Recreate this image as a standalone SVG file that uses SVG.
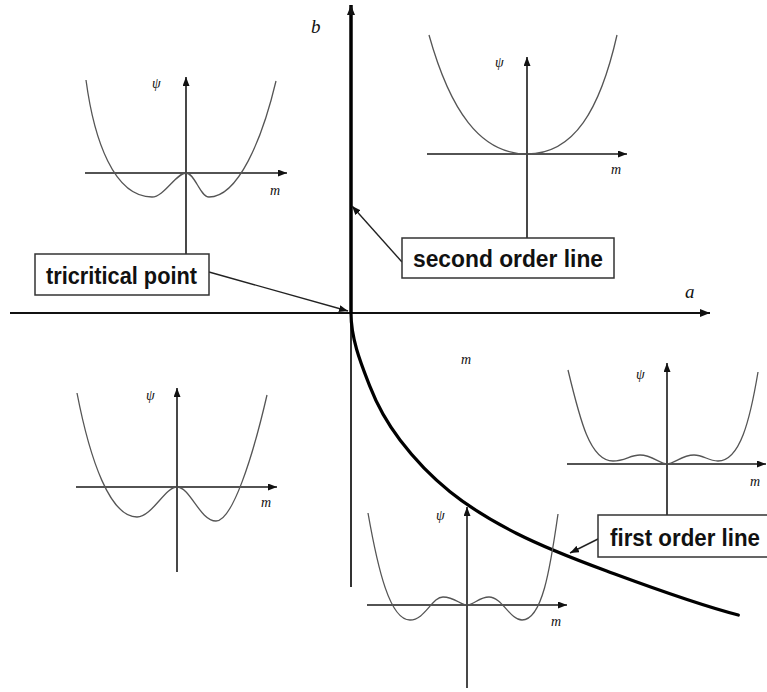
<svg xmlns="http://www.w3.org/2000/svg" width="767" height="692" viewBox="0 0 767 692">
<defs>
<style>
.ax{stroke:#1a1a1a;stroke-width:1.6;fill:none}
.cv{stroke:#555;stroke-width:1.3;fill:none}
.lb{font-family:"Liberation Serif",serif;font-style:italic;fill:#111}
.sm{font-size:14px}
.big{font-size:19px}
.box{fill:#fff;stroke:#333;stroke-width:1.5}
.bt{font-family:"Liberation Sans",Arial,sans-serif;font-weight:bold;font-size:23px;fill:#111}
.ld{stroke:#222;stroke-width:1.4;fill:none}
</style>
<marker id="ah" viewBox="0 0 10 8" refX="10" refY="4" markerWidth="10" markerHeight="8" markerUnits="userSpaceOnUse" orient="auto">
<path d="M0,0 L10,4 L0,8 Z" fill="#111"/>
</marker>
<marker id="ahs" viewBox="0 0 9 7" refX="9" refY="3.5" markerWidth="9" markerHeight="7" markerUnits="userSpaceOnUse" orient="auto">
<path d="M0,0 L9,3.5 L0,7 Z" fill="#111"/>
</marker>
</defs>
<rect width="767" height="692" fill="#fff"/>

<g id="main-axes">
<line x1="10" y1="313" x2="710" y2="313" stroke="#111" stroke-width="2.2" marker-end="url(#ah)"/>
<line x1="351" y1="313" x2="351" y2="587" stroke="#333" stroke-width="2"/>
<line x1="351" y1="313" x2="351" y2="5" stroke="#000" stroke-width="3.5" marker-end="url(#ah)"/>
<text class="lb big" x="311" y="33">b</text>
<text class="lb big" x="685" y="298">a</text>
<text class="lb sm" x="461" y="364">m</text>
</g>

<g id="first-order-line">
<path d="M351,313 C351,340 361.8,365.5 370,386.7 C378.2,407.9 386.7,422.5 400,440 C413.3,457.5 430.55,476.1 450,491.7 C469.45,507.3 490.6,520.3 516.7,533.5 C542.8,546.7 569.8,557.4 606.7,571 C643.6,584.6 694.4,603.7 738.3,615" fill="none" stroke="#000" stroke-width="3.2" stroke-linecap="round"/>
</g>

<g id="inset-top-left">
<line class="ax" x1="85" y1="173" x2="287" y2="173" marker-end="url(#ahs)"/>
<line class="ax" x1="186" y1="254" x2="186" y2="77" marker-end="url(#ahs)"/>
<path class="cv" d="M86,80 C94,140 114,197 152,197 C164,197 176,173 186,173 C195,173 200,197 209,197 C238,197 262,140 276,81"/>
<text class="lb sm" x="152" y="88">ψ</text>
<text class="lb sm" x="270" y="195">m</text>
</g>

<g id="inset-top-right">
<line class="ax" x1="427" y1="154" x2="627" y2="154" marker-end="url(#ahs)"/>
<line class="ax" x1="527" y1="238" x2="527" y2="57" marker-end="url(#ahs)"/>
<path class="cv" d="M429,35 C450,110 480,154 527,154 C574,154 600,110 617,35"/>
<text class="lb sm" x="495" y="67">ψ</text>
<text class="lb sm" x="611" y="174">m</text>
</g>

<g id="inset-bottom-left">
<line class="ax" x1="76" y1="487" x2="277" y2="487" marker-end="url(#ahs)"/>
<line class="ax" x1="177" y1="572" x2="177" y2="388" marker-end="url(#ahs)"/>
<path class="cv" d="M77,393 C90,460 110,517 137,517 C152,517 165,487 177,487 C190,487 200,521 216,521 C232,521 252,460 267,395"/>
<text class="lb sm" x="146" y="400">ψ</text>
<text class="lb sm" x="261" y="507">m</text>
</g>

<g id="inset-bottom">
<line class="ax" x1="367" y1="605" x2="567" y2="605" marker-end="url(#ahs)"/>
<line class="ax" x1="467" y1="688" x2="467" y2="507" marker-end="url(#ahs)"/>
<path class="cv" d="M368,513 C378,570 390,620 410,620 C425,620 432,597 443,597 C455,597 460,605 467,605 C474,605 479,597 489,597 C502,597 510,620 522,620 C542,620 550,570 558,514"/>
<text class="lb sm" x="436" y="520">ψ</text>
<text class="lb sm" x="551" y="626">m</text>
</g>

<g id="inset-right">
<line class="ax" x1="567" y1="464" x2="766" y2="464" marker-end="url(#ahs)"/>
<line class="ax" x1="667" y1="515" x2="667" y2="363" marker-end="url(#ahs)"/>
<path class="cv" d="M568,370 C580,420 590,461 613,461 C625,461 630,455 640,455 C652,455 660,464 667,464 C674,464 682,455 694,455 C704,455 708,461 718,461 C740,461 750,420 758,372"/>
<text class="lb sm" x="636" y="379">ψ</text>
<text class="lb sm" x="750" y="486">m</text>
</g>

<g id="connectors">
<line class="ld" x1="209" y1="272" x2="348" y2="311" marker-end="url(#ahs)"/>
<line class="ld" x1="402" y1="262" x2="352" y2="206" marker-end="url(#ahs)"/>
<line class="ld" x1="600" y1="538" x2="570" y2="553" marker-end="url(#ahs)"/>
</g>

<g id="label-tricritical">
<rect class="box" x="35" y="254" width="174" height="41"/>
<text class="bt" x="46" y="284" textLength="151" lengthAdjust="spacingAndGlyphs">tricritical point</text>
</g>

<g id="label-second-order">
<rect class="box" x="402" y="238" width="212" height="40"/>
<text class="bt" x="413" y="267" textLength="190" lengthAdjust="spacingAndGlyphs">second order line</text>
</g>

<g id="label-first-order">
<rect class="box" x="598" y="515" width="172" height="42"/>
<text class="bt" x="610" y="546" textLength="150" lengthAdjust="spacingAndGlyphs">first order line</text>
</g>
</svg>
